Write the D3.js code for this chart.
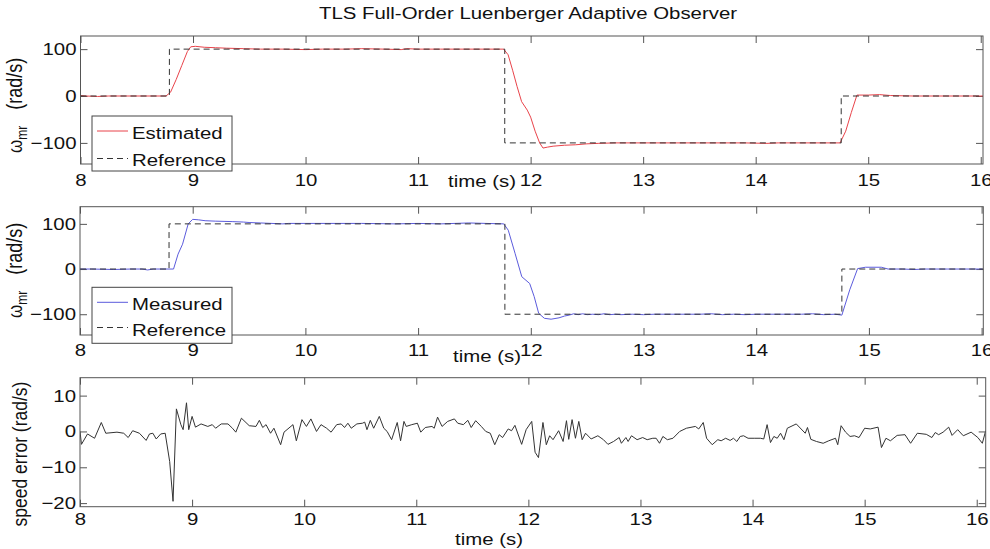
<!DOCTYPE html>
<html><head><meta charset="utf-8">
<script src="https://cdn.jsdelivr.net/npm/d3@7"></script>
<style>
html,body{margin:0;padding:0;background:#fff;}
svg text{font-family:"Liberation Sans",Arial,Helvetica,sans-serif;fill:#111;}
</style></head>
<body><svg id="c" width="990" height="549"></svg>
<script>
// ---------- data ----------
const titleText = "TLS Full-Order Luenberger Adaptive Observer";
const xTicks = [8, 9, 10, 11, 12, 13, 14, 15, 16];
const speedTicks = [-100, 0, 100];
const errTicks = [-20, -10, 0, 10];

const refTime  = [8.0, 8.79, 8.79, 11.77, 11.77, 14.76, 14.76, 16.1];
const refValue = [0, 0, 100, 100, -100, -100, 0, 0];

const estTime = [8.0,8.05,8.15,8.25,8.4,8.6,8.76,8.8,8.85,8.9,8.95,8.98,9.02,9.1,9.2,9.3,9.45,9.6,9.8,10.0,10.15,10.35,10.5,10.7,10.85,10.9,11.0,11.2,11.4,11.55,11.7,11.76,11.8,11.84,11.88,11.92,11.97,12.0,12.04,12.08,12.11,12.15,12.2,12.3,12.4,12.5,12.6,12.75,12.9,13.1,13.3,13.5,13.7,13.9,14.1,14.2,14.4,14.6,14.75,14.8,14.85,14.9,15.0,15.1,15.2,15.4,15.6,15.8,16.0,16.02];
const estimated = [1,0,-1,0,0,0,0,8,35,65,95,105,106,104,103,102,101,100,100,99,100,100,101,100,99,101,100,100,100,100,100,100,88,55,20,-12,-30,-45,-75,-100,-111,-109,-107,-105,-104,-102,-101,-100,-100,-100,-100,-100,-100,-100,-101,-100,-100,-100,-100,-75,-35,2,2,3,1,0,0,0,0,0];

const measTime = [8.0,8.1,8.3,8.45,8.55,8.6,8.65,8.83,8.87,8.91,8.96,9.0,9.05,9.11,9.2,9.35,9.45,9.5,9.6,9.8,9.85,10.0,10.2,10.5,10.8,11.0,11.2,11.45,11.6,11.76,11.8,11.86,11.92,11.99,12.03,12.07,12.12,12.18,12.25,12.3,12.34,12.38,12.42,12.46,12.5,12.55,12.6,12.65,12.7,12.75,12.8,12.9,13.0,13.1,13.3,13.5,13.6,13.7,13.8,13.9,14.0,14.2,14.4,14.5,14.6,14.7,14.76,14.83,14.9,14.97,15.11,15.17,15.3,15.4,15.5,15.7,15.9,16.01];
const measured = [0,0,-1,0,0,-2,0,0,33,55,100,110,109,107,106,105,104,103,102,100,101,101,101,101,100,101,100,102,101,100,86,35,-17,-32,-61,-98,-109,-111,-108,-104,-102,-99,-101,-99,-101,-100,-101,-99,-101,-100,-101,-100,-101,-100,-100,-100,-99,-101,-100,-101,-100,-100,-100,-99,-101,-100,-102,-46,1,4,4,0,0,-1,0,0,0,0];

const errTime = [8.0,8.013,8.067,8.13,8.19,8.23,8.33,8.39,8.43,8.47,8.53,8.59,8.62,8.65,8.68,8.72,8.76,8.8,8.83,8.86,8.9,8.92,8.95,8.97,9.0,9.03,9.08,9.14,9.18,9.21,9.26,9.32,9.36,9.39,9.44,9.51,9.57,9.6,9.63,9.66,9.7,9.73,9.79,9.82,9.9,9.93,9.98,10.02,10.06,10.11,10.15,10.2,10.24,10.29,10.33,10.36,10.39,10.42,10.47,10.52,10.54,10.56,10.59,10.62,10.67,10.71,10.74,10.78,10.83,10.86,10.89,10.91,10.96,11.01,11.04,11.08,11.14,11.16,11.19,11.23,11.28,11.34,11.37,11.42,11.46,11.49,11.53,11.58,11.62,11.66,11.7,11.74,11.77,11.82,11.85,11.88,11.94,11.98,12.03,12.06,12.09,12.13,12.16,12.19,12.22,12.27,12.31,12.34,12.36,12.39,12.42,12.45,12.48,12.51,12.56,12.62,12.67,12.71,12.76,12.81,12.83,12.87,12.89,12.92,12.97,13.02,13.06,13.11,13.14,13.17,13.2,13.24,13.29,13.35,13.41,13.49,13.52,13.56,13.59,13.64,13.69,13.72,13.76,13.8,13.83,13.86,13.89,13.92,13.96,14.02,14.07,14.1,14.13,14.16,14.19,14.22,14.25,14.28,14.31,14.39,14.47,14.49,14.52,14.57,14.63,14.68,14.74,14.76,14.79,14.83,14.87,14.91,14.95,15.0,15.05,15.12,15.15,15.19,15.23,15.29,15.36,15.41,15.47,15.55,15.6,15.63,15.66,15.7,15.75,15.78,15.83,15.88,15.95,16.01,16.05,16.08];
const speedError = [0,-3.6,-0.7,-1.9,2.5,-0.5,-0.2,-0.5,-1.7,0.2,-0.5,-2.5,-0.7,-0.5,-2.1,-0.7,-0.5,-8.4,-19.5,6.3,1.9,0.5,8.0,0.5,4.2,1.2,2.1,1.4,1.9,0.9,2.1,2.1,0.9,-0.2,3.7,1.6,1.4,3.1,1.1,1.9,-0.5,0.9,-3.7,-0.2,1.9,-2.6,3.3,1.4,3.5,0,1.9,0.9,-0.2,1.9,2.1,1.1,2.3,0.9,2.1,2.3,2.6,0.5,3.1,0.9,4.2,0.9,0,-2.3,2.5,-2.6,2.8,1.4,1.9,2.3,-0.2,1.1,1.4,0.9,4.0,1.4,2.8,3.5,2.3,1.9,3.1,1.1,3.0,1.4,0,-0.5,-3.7,-0.9,-1.7,0.7,0.2,1.7,-3.6,0.5,2.8,-5.8,-7.3,2.5,-3.7,-1.2,-2.3,0.2,-2.8,3.0,-2.2,3.3,-1.9,2.8,-2.3,-0.5,-2.1,-1.2,-2.3,-3.6,-2.8,-1.7,-3.3,-1.7,-2.8,-1.2,-2.3,-1.7,-2.3,-1.9,-1.9,-3.3,-1.4,-2.3,-1.9,0,0.9,1.4,0.7,2.5,-1.9,-3.7,-2.3,-2.6,-1.9,-2.5,-1.9,-2.8,-1.4,-1.2,-1.9,-1.9,-1.9,-2.1,1.9,-3.1,-1.4,-1.9,-0.5,-2.3,0.9,2.1,-0.5,1.1,-2.2,-2.8,-3.3,-2.6,-1.9,-3.7,1.6,-0.2,-1.4,-1.2,-1.7,0.9,0.7,1.2,-4.5,-1.9,-2.6,-1.1,-0.9,-3.3,-0.5,-0.8,-1.7,-0.3,-0.9,-0.2,1.2,-1.1,0.5,-1.2,-0.2,-1.7,-3.3,0.2];

// ---------- drawing ----------
const svg = d3.select("#c");
const SX = 1.2, FS = 17;
const boxColor = "#555";

svg.append("text").attr("transform", `translate(528,18.5) scale(${SX},1)`)
  .attr("text-anchor", "middle").attr("font-size", FS).text(titleText);

function panel(cfg, idx) {
  const x = d3.scaleLinear().domain(cfg.xd).range([cfg.l, cfg.r]);
  const y = d3.scaleLinear().domain(cfg.yd).range([cfg.b, cfg.t]);
  const g = svg.append("g");
  const cid = "clip" + idx;
  svg.append("clipPath").attr("id", cid).append("rect")
    .attr("x", cfg.l).attr("y", cfg.t).attr("width", cfg.r - cfg.l).attr("height", cfg.b - cfg.t);

  const styleAxis = (sel, labels) => {
    sel.select(".domain").remove();
    sel.selectAll(".tick line").attr("stroke", boxColor);
    if (!labels) sel.selectAll(".tick text").remove();
    else sel.selectAll(".tick text").attr("font-size", FS).attr("fill", "#111")
      .attr("font-family", "Liberation Sans, Arial, sans-serif")
      .attr("transform", `scale(${SX},1)`);
  };
  g.append("g").attr("transform", `translate(0,${cfg.b})`)
    .call(d3.axisBottom(x).tickValues(xTicks).tickSizeInner(-7).tickSizeOuter(0).tickPadding(cfg.xpad).tickFormat(d3.format("d")))
    .call(s => styleAxis(s, true));
  g.append("g").attr("transform", `translate(0,${cfg.t})`)
    .call(d3.axisTop(x).tickValues(xTicks).tickSizeInner(-7).tickSizeOuter(0))
    .call(s => styleAxis(s, false));
  g.append("g").attr("transform", `translate(${cfg.l},0)`)
    .call(d3.axisLeft(y).tickValues(cfg.yt).tickSizeInner(-7).tickSizeOuter(0).tickPadding(3.3).tickFormat(d3.format("d")))
    .call(s => styleAxis(s, true));
  g.append("g").attr("transform", `translate(${cfg.r},0)`)
    .call(d3.axisRight(y).tickValues(cfg.yt).tickSizeInner(-7).tickSizeOuter(0))
    .call(s => styleAxis(s, false));

  const plot = g.append("g").attr("clip-path", `url(#${cid})`);
  cfg.series.forEach(s => {
    const pts = s.t.map((tt, i) => [tt, s.v[i]]);
    plot.append("path").datum(pts)
      .attr("d", d3.line().x(d => x(d[0])).y(d => y(d[1])))
      .attr("fill", "none").attr("stroke", s.color).attr("stroke-width", s.w || 1)
      .attr("stroke-dasharray", s.dash || null);
  });

  g.append("rect").attr("x", cfg.l).attr("y", cfg.t).attr("width", cfg.r - cfg.l).attr("height", cfg.b - cfg.t)
    .attr("fill", "none").attr("stroke", boxColor).attr("stroke-width", 1);

  g.append("text").attr("transform", `translate(${cfg.xlab[0]},${cfg.xlab[1]}) scale(${SX},1)`)
    .attr("font-size", FS).text("time (s)");

  const yl = g.append("text").attr("transform", `translate(${cfg.ylab[0]},${cfg.ylab[1]}) rotate(-90) scale(1,${SX})`)
    .attr("font-size", cfg.ylabSize || FS).attr("text-anchor", cfg.ylabAnchor);
  cfg.ylabParts(yl);

  if (cfg.legend) {
    const L = cfg.legend;
    g.append("rect").attr("x", L.x).attr("y", L.y).attr("width", L.w).attr("height", L.h)
      .attr("fill", "#fff").attr("stroke", "#444").attr("stroke-width", 1);
    L.items.forEach(it => {
      g.append("line").attr("x1", L.x + 5).attr("x2", L.x + 36).attr("y1", it.ly).attr("y2", it.ly)
        .attr("stroke", it.color).attr("stroke-width", 1).attr("stroke-dasharray", it.dash || null);
      g.append("text").attr("transform", `translate(${L.x + 40},${it.by}) scale(${SX},1)`)
        .attr("font-size", FS).text(it.label);
    });
  }
}

const omegaLabel = t => {
  t.append("tspan").text("ω");
  t.append("tspan").attr("font-size", 12).attr("dy", 4).text("mr");
  t.append("tspan").attr("dy", -4).attr("dx", 16).attr("font-size", 18).text("(rad/s)");
};

panel({
  l: 80.5, r: 983, t: 36, b: 164, xd: [8, 16.02], yd: [-145, 128], yt: speedTicks, xpad: 10.4,
  xlab: [448, 187], ylab: [22, 153], ylabAnchor: "start", ylabParts: omegaLabel,
  series: [
    { t: estTime, v: estimated, color: "#e8434a" },
    { t: refTime, v: refValue, color: "#333", dash: "6,4" }
  ],
  legend: { x: 92, y: 116, w: 140, h: 55, items: [
    { label: "Estimated", color: "#e8434a", ly: 131, by: 139 },
    { label: "Reference", color: "#333", dash: "6,4", ly: 158.5, by: 165.5 }
  ]}
}, 0);

panel({
  l: 80, r: 983.3, t: 206.7, b: 335, xd: [8, 16.015], yd: [-146, 138], yt: speedTicks, xpad: 8.5,
  xlab: [453, 362], ylab: [22, 318], ylabAnchor: "start", ylabParts: omegaLabel,
  series: [
    { t: measTime, v: measured, color: "#5b5bdc" },
    { t: refTime, v: refValue, color: "#333", dash: "6,4" }
  ],
  legend: { x: 92, y: 287.3, w: 140, h: 56, items: [
    { label: "Measured", color: "#5b5bdc", ly: 302.3, by: 310 },
    { label: "Reference", color: "#333", dash: "6,4", ly: 327.5, by: 335.5 }
  ]}
}, 1);

panel({
  l: 80, r: 985.7, t: 377.7, b: 506.7, xd: [8, 16.08], yd: [-21, 15], yt: errTicks, xpad: 6.3,
  xlab: [455, 545], ylab: [27, 454], ylabAnchor: "middle", ylabSize: 17.5,
  ylabParts: t => t.text("speed error (rad/s)"),
  series: [ { t: errTime, v: speedError, color: "#333" } ]
}, 2);
</script></body></html>
